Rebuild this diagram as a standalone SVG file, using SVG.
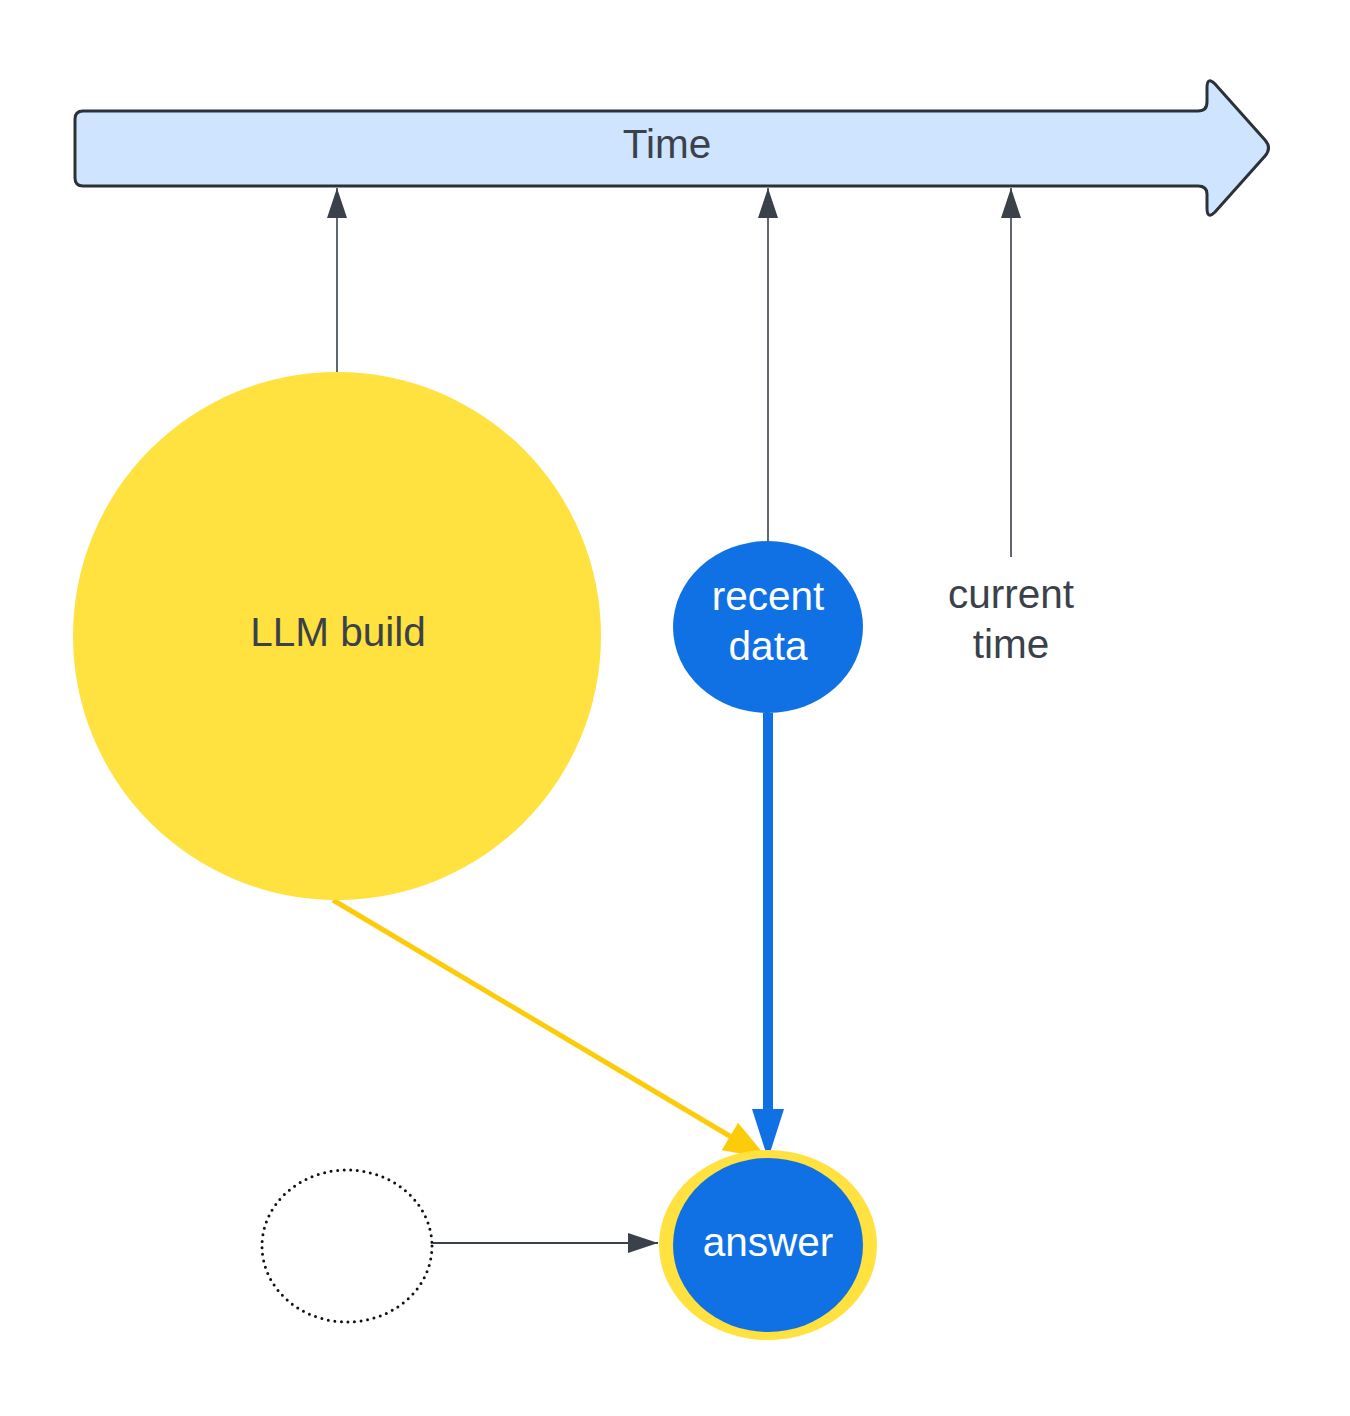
<svg xmlns="http://www.w3.org/2000/svg" width="1350" height="1416" viewBox="0 0 1350 1416">
<style>
.t{font-family:"Liberation Sans",Arial,sans-serif;font-size:40.5px;text-anchor:middle;fill:#3a414a}
.w{fill:#ffffff}
.thin{stroke:#3a414a;stroke-width:1.6;fill:none}
</style>
<defs>
<marker id="dark" markerUnits="userSpaceOnUse" markerWidth="30" markerHeight="20" refX="30" refY="10" orient="auto">
<path d="M0,0 L30,10 L0,20 Z" fill="#3a414a"/>
</marker>
</defs>
<rect width="1350" height="1416" fill="#ffffff"/>
<g id="time">
<path d="M83,111 H1198 Q1207,111 1207,102 V88 Q1207,76 1215,84 L1265,140 Q1272,148 1265,156 L1215,212 Q1207,220 1207,208 V194 Q1207,186 1198,186 H83 Q75,186 75,178 V119 Q75,111 83,111 Z" fill="#cfe4ff" stroke="#2c3137" stroke-width="3" stroke-linejoin="round"/>
<text class="t" x="667" y="158">Time</text>
</g>
<g id="connectors">
<line class="thin" x1="337" y1="372" x2="337" y2="188" marker-end="url(#dark)"/>
<line class="thin" x1="768" y1="541" x2="768" y2="188" marker-end="url(#dark)"/>
<line class="thin" x1="1011" y1="557" x2="1011" y2="188" marker-end="url(#dark)"/>
<line x1="768" y1="713" x2="768" y2="1112" stroke="#1071e5" stroke-width="10"/>
<polygon points="752,1109 784,1109 768,1159" fill="#1071e5"/>
<line x1="333" y1="900" x2="733" y2="1138" stroke="#fccc0a" stroke-width="5"/>
<polygon points="721.7,1150.2 738.1,1122.8 767,1158" fill="#fccc0a"/>
<line x1="433" y1="1243" x2="658" y2="1243" stroke="#3a414a" stroke-width="1.8" marker-end="url(#dark)"/>
</g>
<g id="llm">
<circle cx="337" cy="636" r="264" fill="#ffe13f"/>
<text class="t" x="338" y="646">LLM build</text>
</g>
<g id="recent">
<ellipse cx="768" cy="627" rx="95" ry="86" fill="#1071e5"/>
<text class="t w" x="768" y="610">recent</text>
<text class="t w" x="768" y="660">data</text>
</g>
<g id="current">
<text class="t" x="1011" y="608">current</text>
<text class="t" x="1011" y="658">time</text>
</g>
<g id="answer">
<ellipse cx="768" cy="1245" rx="109" ry="95" fill="#ffe13f"/>
<ellipse cx="768" cy="1245" rx="95" ry="87" fill="#1071e5"/>
<text class="t w" x="768" y="1256">answer</text>
</g>
<g id="blank">
<ellipse cx="347" cy="1246" rx="85" ry="76" fill="none" stroke="#111111" stroke-width="3" stroke-dasharray="0 6.6" stroke-linecap="round"/>
</g>
</svg>
